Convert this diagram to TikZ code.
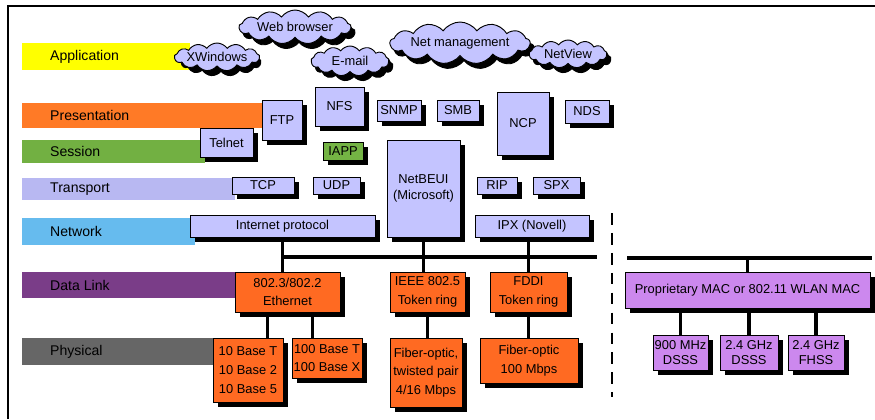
\documentclass[tikz,border=0pt]{standalone}
\usepackage{fontspec}
\setmainfont{Liberation Sans}
\usepackage{xcolor}
\usepackage{tikz}
\usetikzlibrary{shapes.symbols,calc}
\definecolor{lav}{HTML}{C4C4FF}
\definecolor{org}{HTML}{FF6A22}
\definecolor{vio}{HTML}{CC88EE}
\definecolor{grn}{HTML}{74B444}
\definecolor{appY}{HTML}{FFFF00}
\definecolor{preO}{HTML}{FF7A26}
\definecolor{sesG}{HTML}{72B042}
\definecolor{traL}{HTML}{B8B8F2}
\definecolor{netB}{HTML}{66BBEE}
\definecolor{dlkP}{HTML}{7A3D88}
\definecolor{phyG}{HTML}{666666}
\tikzset{
  pbox/.style={draw,fill=lav,thin,inner sep=0pt,align=center,font=\fontsize{11}{13}\selectfont},
  mbox/.style={pbox,fill=org,font=\fontsize{11}{16}\selectfont},
  wbox/.style={pbox,fill=vio},
  app/.style={cloud,cloud puffs=13,cloud puff arc=110,cloud ignores aspect,draw,thick,fill=lav,inner sep=0pt,font=\fontsize{11}{13}\selectfont},
  appshd/.style={app,draw=black,fill=black},
  layer/.style={anchor=west,inner sep=0pt,font=\fontsize{12}{14}\selectfont},
  link/.style={line width=2.6pt},
  bus/.style={line width=4.2pt},
}
\begin{document}
\begin{tikzpicture}[x=0.03cm,y=-0.03cm]
\useasboundingbox (0,0) rectangle (875,419);
% frame
\draw[line width=2.5pt] (8,419) -- (8,6) -- (875,6);
% layer bars
\foreach \n/\ya/\yb/\xb/\col/\lab in {lapp/43/70/190/appY/Application,lpre/103/128/265/preO/Presentation,lses/140/163/205/sesG/Session,ltra/178/200/235/traL/Transport,lnet/218/245/195/netB/Network,ldlk/272/298/240/dlkP/Data Link,lphy/338/365/218/phyG/Physical}
{\fill[\col] (22,\ya) rectangle (\xb,\yb); \node[layer] (\n) at (50,{(\ya+\yb)/2}) {\lab};}
% box shadows
\foreach \xa/\ya/\xb/\yb in {267/105/307/145,320/92/369/131,382/105/426/126,442/105/484/126,502/97/554/160,570/105/614/128,205/133/258/162,237/182/299/199,318/182/365/199,392/145/465/242,482/182/522/199,538/182/585/199,195/220/380/242,480/220/594/242,328/147/368/165,240/277/345/317,395/277/470/317,495/277/572/317,218/343/288/407,297/343/367/383,395/343/467/412,485/343/583/388,630/277/875/313,658/340/713/375,725/340/783/375,793/340/849/375}
{\fill[black] (\xa,\ya) rectangle (\xb,\yb);}
% applications
\node[appshd,minimum width=112*0.03cm,minimum height=34*0.03cm] (web-s) at (299,32) {};
\node[app,minimum width=112*0.03cm,minimum height=34*0.03cm] (web) at (295,27) {Web browser};
\node[appshd,minimum width=80*0.03cm,minimum height=28*0.03cm] (xwin-s) at (221,62) {};
\node[app,minimum width=80*0.03cm,minimum height=28*0.03cm] (xwin) at (217,57) {XWindows};
\node[appshd,minimum width=78*0.03cm,minimum height=30*0.03cm] (mail-s) at (354,66) {};
\node[app,minimum width=78*0.03cm,minimum height=30*0.03cm] (mail) at (350,61) {E-mail};
\node[appshd,minimum width=140*0.03cm,minimum height=42*0.03cm] (netm-s) at (464,48) {};
\node[app,minimum width=140*0.03cm,minimum height=42*0.03cm] (netm) at (460,43) {Net management};
\node[appshd,minimum width=78*0.03cm,minimum height=28*0.03cm] (nview-s) at (572,59) {};
\node[app,minimum width=78*0.03cm,minimum height=28*0.03cm] (nview) at (568,54) {NetView};
% protocol stacks
\foreach \n/\cx/\cy/\w/\h/\txt in {ftp/282/120/40/40/FTP,nfs/339.5/106.5/49/39/NFS,snmp/399/110.5/44/21/SNMP,smb/458/110.5/42/21/SMB,ncp/523/123.5/52/63/NCP,nds/587/111.5/44/23/NDS,telnet/226.5/142.5/53/29/Telnet,tcp/263/185.5/62/17/TCP,udp/336.5/185.5/47/17/UDP,netbeui/423.5/188.5/73/97/{NetBEUI\\(Microsoft)},rip/497/185.5/40/17/RIP,spx/556.5/185.5/47/17/SPX,ip/282.5/226/185/22/Internet protocol,ipx/532/226/114/22/IPX (Novell)}
{\node[pbox,minimum width=\w*0.03cm,minimum height=\h*0.03cm] (\n) at (\cx,\cy) {\txt};}
\node[pbox,fill=grn,minimum width=40*0.03cm,minimum height=18*0.03cm] (iapp) at (343,151) {IAPP};
% wired media
\foreach \n/\cx/\cy/\w/\h/\txt in {eth/287.5/292/105/40/{802.3/802.2\\Ethernet},tr/427.5/292/75/40/{IEEE 802.5\\Token ring},fddi/528.5/292/77/40/{FDDI\\Token ring},b10/248/370/70/64/{10 Base T\\10 Base 2\\10 Base 5},b100/327/358/70/40/{100 Base T\\100 Base X},stp/426/372.5/72/69/{Fiber-optic,\\twisted pair\\4/16 Mbps},fo/529/360.5/98/45/{Fiber-optic\\100 Mbps}}
{\node[mbox,minimum width=\w*0.03cm,minimum height=\h*0.03cm] (\n) at (\cx,\cy) {\txt};}
% wireless
\foreach \n/\cx/\cy/\w/\h/\txt in {mac/747.5/290/245/36/Proprietary MAC or 802.11 WLAN MAC,d900/680.5/352.5/55/35/{900 MHz\\DSSS},d24/749/352.5/58/35/{2.4 GHz\\DSSS},f24/816/352.5/56/35/{2.4 GHz\\FHSS}}
{\node[wbox,minimum width=\w*0.03cm,minimum height=\h*0.03cm] (\n) at (\cx,\cy) {\txt};}
% buses and links
\coordinate (busL) at (283,257);
\coordinate (busR) at (597,257);
\coordinate (wbusL) at (627,258);
\coordinate (wbusR) at (872,258);
\draw[bus] (busL) -- (busR);
\draw[bus] (wbusL) -- (wbusR);
\draw[link] (ip.south) -- (ip.south |- eth.north);
\draw[link] (netbeui.south) -- (netbeui.south |- tr.north);
\draw[link] (fddi.north |- ipx.south) -- (fddi.north);
\draw[link] ($(b10.north)!0.55!(b10.north east)$) coordinate (e1) -- (e1 |- eth.south);
\draw[link] ($(b100.north west)!0.58!(b100.north)$) coordinate (e2) -- (e2 |- eth.south);
\draw[link] (tr.south) -- (tr.south |- stp.north);
\draw[link] (fddi.south) -- (fddi.south |- fo.north);
\draw[link] (mac.north) -- (mac.north |- wbusL);
\foreach \m in {d900,d24,f24} {\draw[link] (\m.north) -- (\m.north |- mac.south);}
% wired / wireless separator
\coordinate (sepT) at (612,213);
\coordinate (sepB) at (612,397);
\draw[line width=1.6pt,dash pattern=on 10pt off 7pt] (sepT) -- (sepB);
\end{tikzpicture}
\end{document}
